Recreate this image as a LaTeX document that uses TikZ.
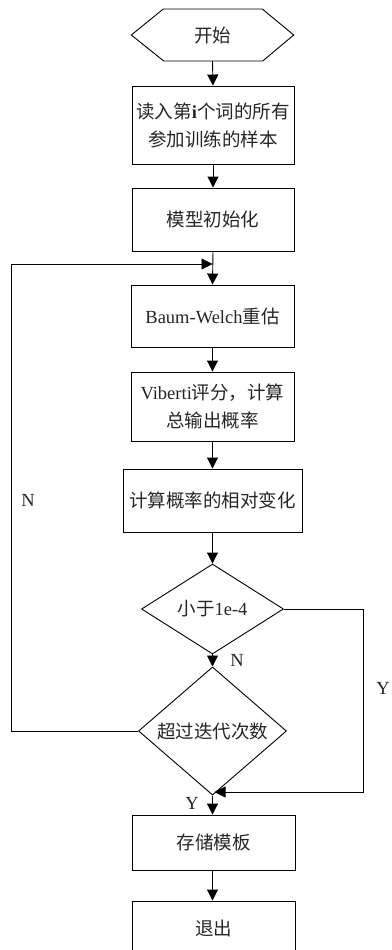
\documentclass[tikz,border=0pt]{standalone}
\usepackage{fontspec}
\setmainfont{Liberation Serif}
\newfontfamily\cjk{Noto Sans CJK SC}
\usetikzlibrary{shapes.geometric,arrows.meta}
\begin{document}
\begin{tikzpicture}[x=1pt,y=-1pt,
  txt/.style={font=\fontsize{18.5}{28}\selectfont,text=black!85},
  proc/.style={txt,draw,line width=0.9pt,inner sep=0pt,align=center,minimum width=162pt},
  term/.style={txt,inner sep=0pt,minimum width=162pt,minimum height=52pt},
  dec/.style={txt,draw,diamond,inner sep=0pt,line width=0.9pt},
  arr/.style={-{Triangle[length=11pt,width=11pt]},line width=0.9pt},
  lbl/.style={font=\fontsize{18.5}{20}\selectfont,text=black!85}]
\clip (0,0) rectangle (391,950);
\fill[white] (0,0) rectangle (391,950);

\node[term] (start) at (212.5,35) {\cjk 开始};
\draw[line width=0.9pt] (start.west) -- ++(32,-26) -- ++(99,0) -- (start.east) -- ++(-31,26) -- ++(-99,0) -- cycle;

\node[proc,minimum height=78pt] (b1) at (213,125) {{\cjk 读入第}\textbf{i}{\cjk 个词的所有}\\{\cjk 参加训练的样本}};
\node[proc,minimum height=63pt] (b2) at (213,219.5) {\cjk 模型初始化};
\node[proc,minimum width=163pt,minimum height=62pt] (b3) at (212.5,316) {Baum-Welch{\cjk 重估}};
\node[proc,minimum width=163pt,minimum height=69pt] (b4) at (212.5,406.5) {Viberti{\cjk 评分，计算}\\{\cjk 总输出概率}};
\node[proc,minimum width=179pt,minimum height=63pt] (b5) at (212.5,500.5) {\cjk 计算概率的相对变化};
\node[dec,minimum width=142pt,minimum height=90pt] (d1) at (212.5,609) {{\cjk 小于}1e-4};
\node[dec,minimum width=148pt,minimum height=94pt] (d2) at (212.5,731) {\cjk 超过迭代次数};
\node[proc,minimum width=163pt,minimum height=55pt] (b6) at (213.5,842.5) {\cjk 存储模板};
\node[proc,minimum width=163pt,minimum height=55pt] (b7) at (213.5,928.5) {\cjk 退出};

\coordinate (j1) at (212.5,264);
\coordinate (lp) at (11,264);
\coordinate (j2) at (214.5,792);
\coordinate (rp) at (363,609);

\draw[arr] (start.south) -- (b1.north);
\draw[arr] (b1.south) -- (b2.north);
\draw[arr] (b2.south) -- (b3.north);
\draw[arr] (b3.south) -- (b4.north);
\draw[arr] (b4.south) -- (b5.north);
\draw[arr] (b5.south) -- (d1.north);
\draw[arr] (d1.south) -- (d2.north);
\draw[arr] (d2.south) -- (b6.north -| d2.south);
\draw[arr] (b6.south -| d2.south) -- (b7.north -| d2.south);
\draw[arr] (d2.west) -| (lp) -- (j1);
\draw[arr] (d1.east) -- (rp) |- (j2);

\node[lbl] (n1) at (28,500) {N};
\node[lbl] (n2) at (237,660) {N};
\node[lbl] (y1) at (383,688) {Y};
\node[lbl] (y2) at (192,803) {Y};
\end{tikzpicture}
\end{document}
